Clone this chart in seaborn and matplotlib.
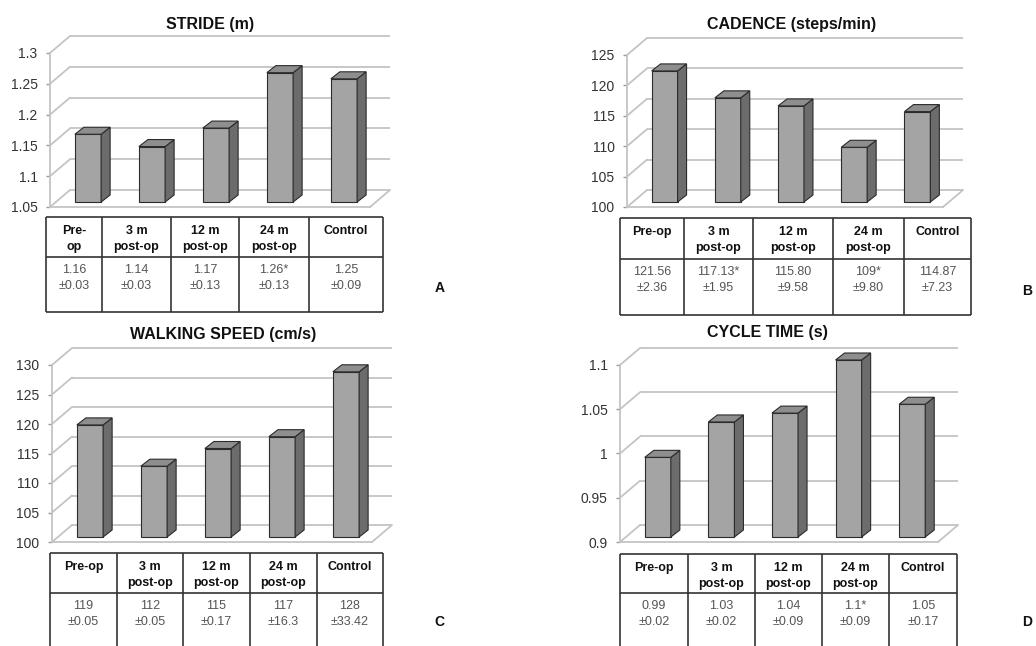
import numpy as np
import pandas as pd
import seaborn as sns
import matplotlib.pyplot as plt
from matplotlib.transforms import offset_copy, IdentityTransform
from matplotlib.patches import Polygon

sns.set_theme(style='white')
plt.rcParams['font.family'] = ['Liberation Sans', 'DejaVu Sans']

# data
groups = ['Pre-op', '3 m post-op', '12 m post-op', '24 m post-op', 'Control']
heads_a = ['Pre-\nop', '3 m\npost-op', '12 m\npost-op', '24 m\npost-op', 'Control']
heads = ['Pre-op', '3 m\npost-op', '12 m\npost-op', '24 m\npost-op', 'Control']

stride = [1.16, 1.14, 1.17, 1.26, 1.25]
stride_txt = ['1.16', '1.14', '1.17', '1.26*', '1.25']
stride_sd = ['0.03', '0.03', '0.13', '0.13', '0.09']
stride_ticks = [1.05, 1.1, 1.15, 1.2, 1.25, 1.3]

cadence = [121.56, 117.13, 115.80, 109, 114.87]
cadence_txt = ['121.56', '117.13*', '115.80', '109*', '114.87']
cadence_sd = ['2.36', '1.95', '9.58', '9.80', '7.23']
cadence_ticks = [100, 105, 110, 115, 120, 125]

speed = [119, 112, 115, 117, 128]
speed_txt = ['119', '112', '115', '117', '128']
speed_sd = ['0.05', '0.05', '0.17', '16.3', '33.42']
speed_ticks = [100, 105, 110, 115, 120, 125, 130]

cycle = [0.99, 1.03, 1.04, 1.1, 1.05]
cycle_txt = ['0.99', '1.03', '1.04', '1.1*', '1.05']
cycle_sd = ['0.02', '0.02', '0.09', '0.09', '0.17']
cycle_ticks = [0.9, 0.95, 1, 1.05, 1.1]

# layout (pixels, from top-left)
W, H = 1036, 646
panels = [
    dict(title='STRIDE (m)', vals=stride, txt=stride_txt, sd=stride_sd, heads=heads_a,
         ticks=stride_ticks, box=(50, 53, 370, 207), title_xy=(210, 24),
         cols=(46, 102, 171, 239, 309, 383), rows=(217, 257, 312),
         letter='A', letter_xy=(440, 288)),
    dict(title='CADENCE (steps/min)', vals=cadence, txt=cadence_txt, sd=cadence_sd, heads=heads,
         ticks=cadence_ticks, box=(627, 55, 943, 207), title_xy=(792, 24),
         cols=(620, 684, 753, 833, 904, 971), rows=(218, 259, 315),
         letter='B', letter_xy=(1027, 291)),
    dict(title='WALKING SPEED (cm/s)', vals=speed, txt=speed_txt, sd=speed_sd, heads=heads,
         ticks=speed_ticks, box=(52, 365, 372, 542), title_xy=(223, 334),
         cols=(50, 117, 183, 250, 317, 383), rows=(553, 593, 700),
         letter='C', letter_xy=(439, 622)),
    dict(title='CYCLE TIME (s)', vals=cycle, txt=cycle_txt, sd=cycle_sd, heads=heads,
         ticks=cycle_ticks, box=(620, 365, 938, 542), title_xy=(767, 333),
         cols=(620, 688, 755, 822, 889, 957), rows=(554, 593, 700),
         letter='D', letter_xy=(1027, 622)),
]

DX, DY = 20, 17        # depth of the 3d box
BX, BY = 6, 5          # bar set back from the front
SX, SY = 9, 7          # bar depth
grid_c = '#c4c4c4'
front_c, side_c, top_c, edge_c = '#a4a4a4', '#6c6c6c', '#8e8e8e', '#2b2b2b'

fig = plt.figure(figsize=(W / 100, H / 100), dpi=100)
over = fig.add_axes([0, 0, 1, 1], zorder=5)
over.set_xlim(0, W)
over.set_ylim(H, 0)
over.axis('off')

for pn in panels:
    x0, y0, x1, y1 = pn['box']
    ax = fig.add_axes([x0 / W, 1 - y1 / H, (x1 - x0) / W, (y1 - y0) / H])
    df = pd.DataFrame({'group': groups, 'value': pn['vals']})
    sns.barplot(data=df, x='group', y='value', ax=ax, color=front_c,
                saturation=1, width=0.41, edgecolor=edge_c, linewidth=0.8, zorder=3)
    lo, hi = pn['ticks'][0], pn['ticks'][-1]
    ax.set_xlim(-0.5, 4.5)
    ax.set_ylim(lo, hi)
    ax.set_yticks(pn['ticks'])
    ax.set_yticklabels([f'{t:g}' for t in pn['ticks']])
    ax.set_xticks([])
    ax.set_xlabel('')
    ax.set_ylabel('')
    ax.patch.set_alpha(0)
    for s in ['top', 'right']:
        ax.spines[s].set_visible(False)
    for s in ['left', 'bottom']:
        ax.spines[s].set_color(grid_c)
        ax.spines[s].set_linewidth(1.3)
    ax.tick_params(axis='y', left=True, length=3, width=1, color='#999999',
                   labelsize=10, labelcolor='#333333', pad=6)

    # back wall and left wall
    back = offset_copy(ax.transData, fig=fig, x=DX, y=DY, units='dots')
    ax.hlines(pn['ticks'], -0.5, 4.5, transform=back, colors=grid_c, lw=1.3,
              zorder=0, clip_on=False)
    for t in pn['ticks']:
        px, py = ax.transData.transform((-0.5, t))
        ax.plot([px, px + DX], [py, py + DY], transform=IdentityTransform(),
                color=grid_c, lw=1.3, zorder=0, clip_on=False)
    px, py = ax.transData.transform((4.5, lo))
    ax.plot([px, px + DX], [py, py + DY], transform=IdentityTransform(),
            color=grid_c, lw=1.3, zorder=0, clip_on=False)

    # 3d bars
    bar_tr = offset_copy(ax.transData, fig=fig, x=BX, y=BY, units='dots')
    for p in list(ax.patches):
        v = p.get_height()
        p.set_y(lo)
        p.set_height(v - lo)
        p.set_transform(bar_tr)
        p.set_clip_on(False)
        bx0, by0 = bar_tr.transform((p.get_x(), lo))
        bx1, by1 = bar_tr.transform((p.get_x() + p.get_width(), v))
        side = [(bx1, by0), (bx1, by1), (bx1 + SX, by1 + SY), (bx1 + SX, by0 + SY)]
        top = [(bx0, by1), (bx1, by1), (bx1 + SX, by1 + SY), (bx0 + SX, by1 + SY)]
        for poly, c in [(side, side_c), (top, top_c)]:
            ax.add_patch(Polygon(poly, closed=True, facecolor=c, edgecolor=edge_c,
                                 lw=0.8, transform=IdentityTransform(),
                                 clip_on=False, zorder=3))

    # title and panel letter
    over.text(*pn['title_xy'], pn['title'], ha='center', va='center',
              fontsize=11.5, fontweight='bold', color='#111111')
    over.text(*pn['letter_xy'], pn['letter'], ha='center', va='center',
              fontsize=10, fontweight='bold', color='#111111')

    # data table
    cols, rows = pn['cols'], pn['rows']
    over.hlines(rows, cols[0], cols[-1], colors='#333333', lw=1.2)
    over.vlines(cols, rows[0], rows[-1], colors='#333333', lw=1.2)
    for i in range(5):
        cx = (cols[i] + cols[i + 1]) / 2
        for j, line in enumerate(pn['heads'][i].split('\n')):
            over.text(cx, rows[0] + 14 + 16 * j, line, ha='center', va='center',
                      fontsize=9, fontweight='bold', color='#111111')
        over.text(cx, rows[1] + 13, pn['txt'][i], ha='center', va='center',
                  fontsize=9, color='#555555')
        over.text(cx, rows[1] + 29, '±' + pn['sd'][i], ha='center', va='center',
                  fontsize=9, color='#555555')

fig.savefig('out.png', dpi=100)
